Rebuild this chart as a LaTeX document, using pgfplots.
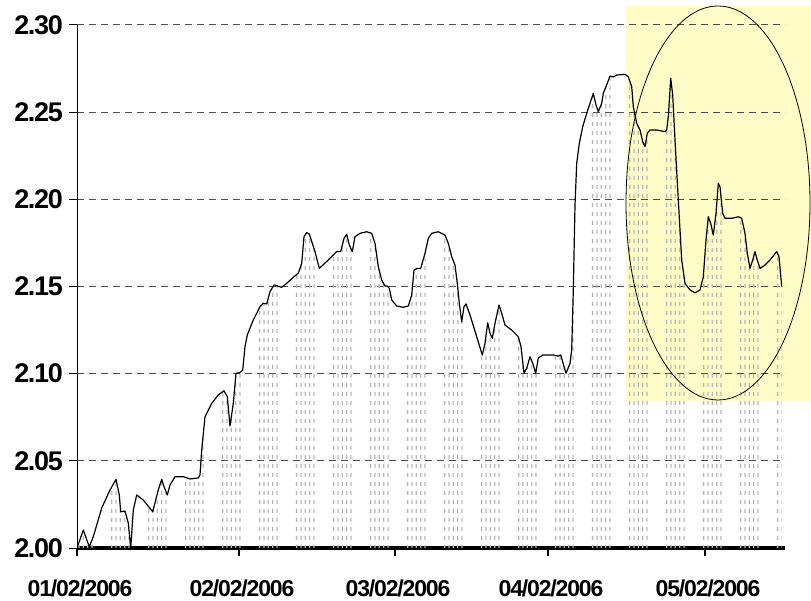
\documentclass[border=0pt]{standalone}
\usepackage{fontspec}
\setmainfont{Liberation Sans}
\newfontfamily\tickfont{Liberation Sans}[LetterSpace=-5]
\usepackage{pgfplots}
\usepackage{pgfplotstable}
\pgfplotsset{compat=1.18}
\usetikzlibrary{patterns.meta}

% gray dotted drop lines under the curve
\tikzdeclarepattern{
  name=dropdots,
  type=colored,
  bounding box={(0,0) and (36.6bp,8.7bp)},
  tile size={(36.6bp,8.7bp)},
  code={
    \foreach \i in {0,...,4}{
      \fill[black!28] ({1bp+\i*4.4bp},0) rectangle ++(1.3bp,4.3bp);
    }
  }
}

\pgfplotstableread{
x y
77 2.0000
83.3 2.0103
89.3 2.0007
93.3 2.0065
101.7 2.0229
110 2.0333
116 2.0394
119.3 2.0304
120.7 2.0208
125 2.0212
128.3 2.0143
130.7 2.0000
133.3 2.0218
136.7 2.0304
143.3 2.0275
152.7 2.0208
158.3 2.0333
161.7 2.0394
164 2.0352
167.3 2.0304
170 2.0361
175 2.0409
183.3 2.0409
190 2.0396
198.3 2.0402
200 2.0419
201.7 2.0562
205 2.0753
211.7 2.0830
218.3 2.0878
224 2.0902
227.3 2.0868
230 2.0700
233.3 2.0830
236 2.1002
240 2.1006
242.7 2.1021
245 2.1155
247.3 2.1222
253.3 2.1308
260 2.1384
263.3 2.1404
266.7 2.1400
270 2.1470
274 2.1509
281.7 2.1495
286.7 2.1518
293.3 2.1553
298.3 2.1576
301.7 2.1633
304 2.1786
306.7 2.1809
309.3 2.1801
315 2.1700
319.3 2.1604
328.3 2.1652
336.7 2.1700
340.7 2.1700
344 2.1776
346.7 2.1799
349.3 2.1738
352.3 2.1700
355 2.1786
360 2.1805
366.7 2.1814
371.7 2.1805
375 2.1748
378.3 2.1614
381.7 2.1537
385 2.1503
387.3 2.1503
389.3 2.1490
391.7 2.1423
396.7 2.1388
403.3 2.1381
408.3 2.1388
411.7 2.1451
414 2.1595
417.3 2.1604
420.7 2.1604
425 2.1690
428.3 2.1776
431.7 2.1805
438.3 2.1814
445 2.1795
448.3 2.1748
451.7 2.1671
455 2.1623
457.3 2.1518
459.3 2.1404
461.7 2.1298
464 2.1384
466 2.1400
470 2.1337
476.7 2.1212
482.3 2.1107
485 2.1174
487.7 2.1292
490 2.1232
492.3 2.1203
495 2.1289
499 2.1394
501.7 2.1346
505 2.1279
511.7 2.1250
518.3 2.1212
521 2.1155
524 2.1002
526.7 2.1031
530 2.1097
533.3 2.1050
535.7 2.1002
538.3 2.1090
542.7 2.1107
553.3 2.1107
558.3 2.1101
560.7 2.1107
563.3 2.1055
566 2.1002
570 2.1059
571.7 2.1136
573.3 2.1480
575 2.1967
576.7 2.2207
579.3 2.2321
582.7 2.2417
586.7 2.2493
590 2.2551
593.3 2.2608
596 2.2541
598.3 2.2503
601.7 2.2551
603.3 2.2608
607.3 2.2666
610 2.2707
613.3 2.2702
616.7 2.2713
625 2.2717
628.3 2.2703
631.7 2.2646
633.3 2.2531
636.7 2.2436
640 2.2398
642.7 2.2331
645 2.2302
647.3 2.2379
650 2.2398
656.7 2.2398
665 2.2388
666.7 2.2398
668.3 2.2474
670.7 2.2694
672.7 2.2598
675 2.2340
678.3 2.1996
681.7 2.1652
685 2.1518
690 2.1480
695 2.1464
700 2.1480
703.3 2.1556
706 2.1767
708.3 2.1900
710.7 2.1862
713.3 2.1795
716 2.1920
718.3 2.2092
720 2.2072
722.7 2.1920
725 2.1891
731.7 2.1891
738.3 2.1900
741.7 2.1891
745 2.1805
747.3 2.1690
750 2.1604
752.7 2.1652
755 2.1700
756.7 2.1662
760 2.1604
765 2.1623
770 2.1652
776.7 2.1700
779 2.1671
781.7 2.1499
}\pricedata

\begin{document}
\begin{tikzpicture}
\begin{axis}[
  at={(0,0)},anchor=south west,
  scale only axis,width=708bp,height=523bp,
  set layers,clip mode=individual,
  xmin=77,xmax=785,ymin=2,ymax=2.30,
  axis x line*=bottom,axis y line*=left,
  x axis line style={-,line width=3bp},
  y axis line style={-,line width=1bp},
  tick align=outside,major tick length=8bp,
  xtick style={line width=2.4bp,black},
  ytick style={line width=1bp,black},
  xtick={77,239,395,548,705},
  xticklabels={01/02/2006,02/02/2006,03/02/2006,04/02/2006,05/02/2006},
  ytick={2.00,2.05,2.10,2.15,2.20,2.25,2.30},
  yticklabels={2.00,2.05,2.10,2.15,2.20,2.25,2.30},
  xticklabel style={font=\tickfont\bfseries\fontsize{23bp}{26bp}\selectfont,
                    anchor=north,inner sep=0pt,xshift=3bp,yshift=-24bp},
  yticklabel style={font=\tickfont\bfseries\fontsize{27bp}{30bp}\selectfont,
                    anchor=east,inner sep=0pt,xshift=-6bp},
  ymajorgrids,
  grid style={dash pattern=on 7bp off 5bp,black!70,line width=1bp},
]
\begin{pgfonlayer}{axis background}
  \fill[yellow!22] (axis cs:626,2.0843) rectangle (axis cs:812,2.3109);
\end{pgfonlayer}
\addplot[draw=none,pattern=dropdots] table {\pricedata} \closedcycle;
\addplot[black,line width=1.2bp,line join=round] table {\pricedata};
\draw[black,line width=0.8bp] (axis cs:718,2.1979) ellipse [x radius=92bp,y radius=197bp];
\end{axis}
\pgfresetboundingbox
\path[use as bounding box] (-77bp,-53bp) rectangle (734bp,548bp);
\end{tikzpicture}
\end{document}
